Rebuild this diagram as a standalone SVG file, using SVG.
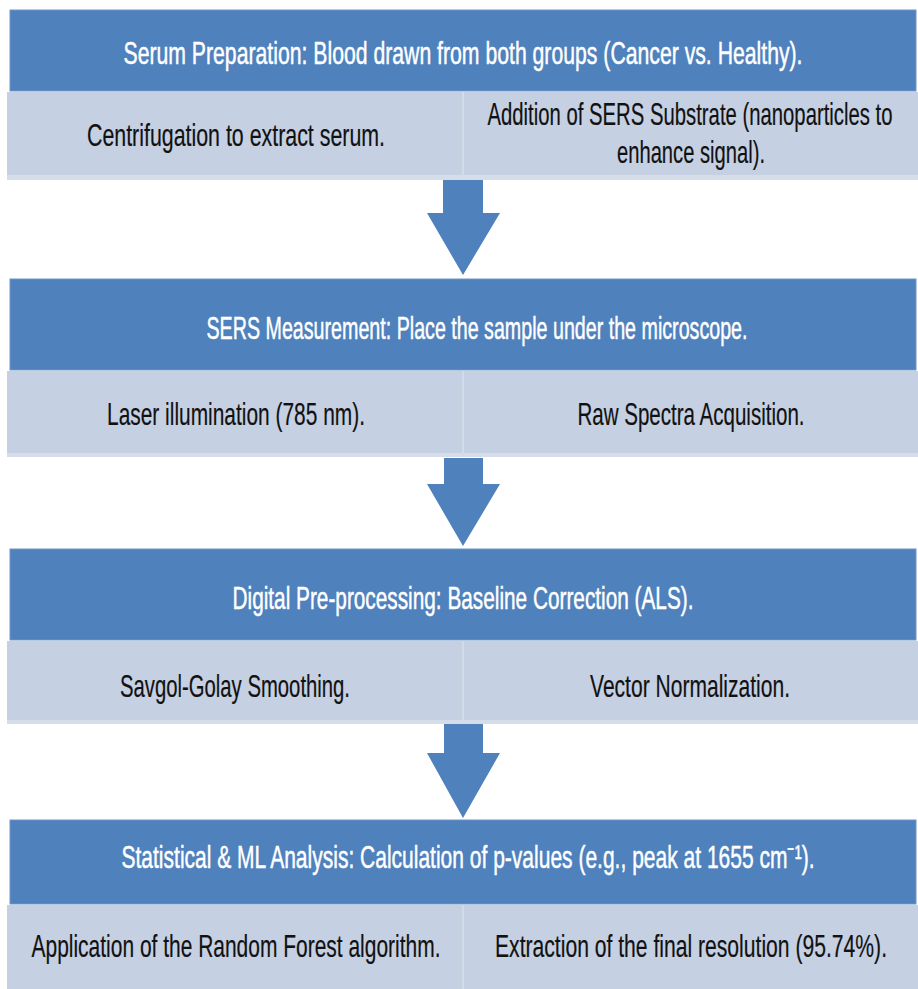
<svg xmlns="http://www.w3.org/2000/svg" width="918" height="989" viewBox="0 0 918 989">
<style>
.hdr{fill:#4F81BD;stroke:#6E95C6;stroke-width:1}
.sub{fill:#C5D0E3}
.shadow{fill:#D6DDEA}
.div{fill:#D3DBE9}
.ht{font-family:"Liberation Sans Narrow","Liberation Sans",Arial,sans-serif;font-size:32px;fill:#FFFFFF;stroke:#FFFFFF;stroke-width:0.5;text-anchor:middle}
.st{font-family:"Liberation Sans Narrow","Liberation Sans",Arial,sans-serif;font-size:32px;fill:#111111;stroke:#111111;stroke-width:0.2;text-anchor:middle}
.arr{fill:#4F81BD}
</style>
<rect width="918" height="989" fill="#FFFFFF"/>

<g id="block1">
  <rect class="hdr" x="10" y="10" width="906" height="81"/>
  <text class="ht" x="463" y="64" textLength="679" lengthAdjust="spacingAndGlyphs">Serum Preparation: Blood drawn from both groups (Cancer vs. Healthy).</text>
  <rect class="shadow" x="7" y="92" width="911" height="88"/>
  <rect class="sub" x="7" y="92" width="911" height="83"/>
  <rect class="div" x="462" y="92" width="2" height="86"/>
  <text class="st" x="236" y="146" textLength="298" lengthAdjust="spacingAndGlyphs">Centrifugation to extract serum.</text>
  <text class="st" x="690" y="125" textLength="405" lengthAdjust="spacingAndGlyphs">Addition of SERS Substrate (nanoparticles to</text>
  <text class="st" x="691" y="163" textLength="148" lengthAdjust="spacingAndGlyphs">enhance signal).</text>
</g>

<g id="block2">
  <rect class="hdr" x="10" y="279" width="906" height="91"/>
  <text class="ht" x="477" y="339" textLength="541" lengthAdjust="spacingAndGlyphs">SERS Measurement: Place the sample under the microscope.</text>
  <rect class="shadow" x="7" y="371" width="911" height="86"/>
  <rect class="sub" x="7" y="371" width="911" height="82"/>
  <rect class="div" x="462" y="371" width="2" height="84"/>
  <text class="st" x="236" y="425" textLength="258" lengthAdjust="spacingAndGlyphs">Laser illumination (785 nm).</text>
  <text class="st" x="691" y="425" textLength="227" lengthAdjust="spacingAndGlyphs">Raw Spectra Acquisition.</text>
</g>

<g id="block3">
  <rect class="hdr" x="10" y="549" width="906" height="91"/>
  <text class="ht" x="463" y="609" textLength="461" lengthAdjust="spacingAndGlyphs">Digital Pre-processing: Baseline Correction (ALS).</text>
  <rect class="shadow" x="7" y="641" width="911" height="83"/>
  <rect class="sub" x="7" y="641" width="911" height="79"/>
  <rect class="div" x="462" y="641" width="2" height="81"/>
  <text class="st" x="235" y="697" textLength="230" lengthAdjust="spacingAndGlyphs">Savgol-Golay Smoothing.</text>
  <text class="st" x="690" y="697" textLength="200" lengthAdjust="spacingAndGlyphs">Vector Normalization.</text>
</g>

<g id="block4">
  <rect class="hdr" x="10" y="820" width="906" height="84"/>
  <text class="ht" x="468" y="868" textLength="693" lengthAdjust="spacingAndGlyphs">Statistical &amp; ML Analysis: Calculation of p-values (e.g., peak at 1655 cm⁻¹).</text>
  <rect class="sub" x="7" y="905" width="911" height="84"/>
  <rect class="div" x="462" y="905" width="2" height="84"/>
  <text class="st" x="236" y="957" textLength="409" lengthAdjust="spacingAndGlyphs">Application of the Random Forest algorithm.</text>
  <text class="st" x="691" y="957" textLength="392" lengthAdjust="spacingAndGlyphs">Extraction of the final resolution (95.74%).</text>
</g>

<g id="connectors">
  <polygon class="arr" points="443,180 483,180 483,213 500,213 463,275 427,213 443,213"/>
  <polygon class="arr" points="444,458 483,458 483,484 500,484 463,546 427,484 444,484"/>
  <polygon class="arr" points="444,724 483,724 483,753 500,753 463,818 427,753 444,753"/>
</g>
</svg>
